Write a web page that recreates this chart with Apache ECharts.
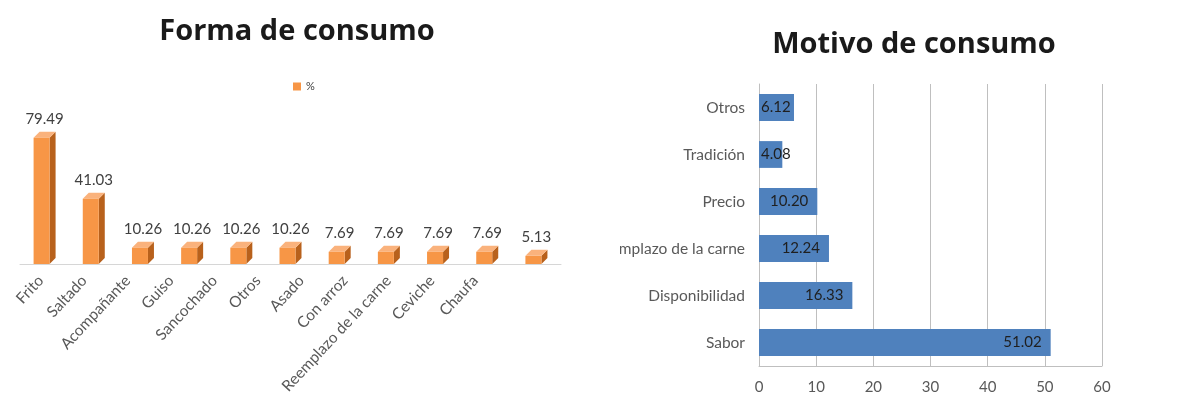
<!DOCTYPE html>
<html>
<head>
<meta charset="utf-8">
<script src="https://cdn.jsdelivr.net/npm/echarts@6/dist/echarts.min.js"></script>
<style>
html,body{margin:0;padding:0;background:#fff;}
#wrap{position:relative;width:1177px;height:414px;overflow:hidden;}
#left{position:absolute;left:0;top:0;width:600px;height:414px;}
#right{position:absolute;left:620px;top:0;width:557px;height:414px;}
</style>
</head>
<body>
<div id="wrap"><div id="left"></div><div id="right"></div></div>
<script>
// Left chart data
const formaCategories = ['Frito','Saltado','Acompañante','Guiso','Sancochado','Otros','Asado','Con arroz','Reemplazo de la carne','Ceviche','Chaufa'];
const formaValues = [79.49, 41.03, 10.26, 10.26, 10.26, 10.26, 7.69, 7.69, 7.69, 7.69, 5.13];
const formaSeriesName = '%';

// Right chart data (bottom to top)
const motivoCategories = ['Sabor','Disponibilidad','Reemplazo de la carne','Precio','Tradición','Otros'];
const motivoValues = [51.02, 16.33, 12.24, 10.20, 4.08, 6.12];
const motivoTicks = [0,10,20,30,40,50,60];

const FONT = 'Lato, "Open Sans", sans-serif';
const TFONT = '"Open Sans", Lato, sans-serif';

const left = echarts.init(document.getElementById('left'));
left.setOption({
  animation:false,
  title:{text:'Forma de consumo', left:292, top:12, textAlign:'center',
    textStyle:{fontFamily:TFONT, fontSize:29, fontWeight:'bold', color:'#1a1a1a'}},
  legend:{data:[formaSeriesName], left:288, top:76, icon:'rect', itemWidth:8, itemHeight:8, itemGap:4,
    textStyle:{fontFamily:FONT, fontSize:11, color:'#404040'}},
  grid:[
    {left:20, right:39, top:137, bottom:150, outerBoundsMode:'none', containLabel:false},
    {left:19, right:103, top:200, bottom:144, outerBoundsMode:'none', containLabel:false}
  ],
  xAxis:[
    {type:'category', data:formaCategories, gridIndex:0,
      axisLine:{show:true, lineStyle:{color:'#d6d6d6'}}, axisTick:{show:false}, axisLabel:{show:false}},
    {type:'category', data:formaCategories, gridIndex:1,
      axisLine:{show:false}, axisTick:{show:false},
      axisLabel:{rotate:47, margin:8, interval:0, fontFamily:FONT, fontSize:15.5, color:'#595959'}}
  ],
  yAxis:[
    {type:'value', min:0, max:80, show:false, gridIndex:0},
    {type:'value', min:0, max:1, show:false, gridIndex:1}
  ],
  series:[{
    type:'custom', name:formaSeriesName,
    itemStyle:{color:'#f79646'},
    data: formaValues.map((v,i)=>[i,v]),
    encode:{x:0,y:1},
    renderItem:function(params, api){
      const i = api.value(0), v = api.value(1);
      const b = api.coord([i,0]), t = api.coord([i,v]);
      const w = 16, d = 6;
      const x0 = b[0]-w/2-d/2, x1 = x0+w;
      const yb = b[1], yt = t[1];
      return {type:'group', children:[
        {type:'polygon', shape:{points:[[x1,yt],[x1+d,yt-d],[x1+d,yb-d],[x1,yb]]}, style:{fill:'#b8611c'}},
        {type:'polygon', shape:{points:[[x0,yt],[x0+d,yt-d],[x1+d,yt-d],[x1,yt]]}, style:{fill:'#fab27c'}},
        {type:'rect', shape:{x:x0,y:yt,width:w,height:yb-yt}, style:{fill:'#f79646'}},
        {type:'text', style:{text:v.toFixed(2), x:(x0+x1+d)/2, y:yt-d-5, align:'center', verticalAlign:'bottom',
          fill:'#404040', font:'15px '+FONT}}
      ]};
    }
  }]
});

const smallLabel = {position:'insideLeft', distance:2};
const right = echarts.init(document.getElementById('right'));
right.setOption({
  animation:false,
  title:{text:'Motivo de consumo', left:289, top:25, textAlign:'center',
    textStyle:{fontFamily:TFONT, fontSize:29, fontWeight:'bold', color:'#1a1a1a'}},
  grid:{left:139, right:75, top:84, bottom:48, outerBoundsMode:'none', containLabel:false},
  xAxis:{type:'value', min:0, max:60, interval:10,
    axisLine:{show:true, lineStyle:{color:'#bfbfbf'}}, axisTick:{show:false},
    splitLine:{show:true, lineStyle:{color:'#bfbfbf'}},
    axisLabel:{margin:14, fontFamily:FONT, fontSize:15, color:'#595959',
      formatter:function(v){return motivoTicks.indexOf(v)>=0 ? String(v) : '';}}},
  yAxis:{type:'category', data:motivoCategories,
    axisLine:{show:true, lineStyle:{color:'#bfbfbf'}}, axisTick:{show:false},
    axisLabel:{margin:14, fontFamily:FONT, fontSize:15.5, color:'#595959'}},
  series:[{
    type:'bar', barCategoryGap:'43%',
    itemStyle:{color:'#4f81bd'},
    data: motivoValues.map(v=> v<8 ? {value:v, label:smallLabel} : v),
    label:{show:true, position:'insideRight', distance:9, fontFamily:FONT, fontSize:15, color:'#1f1f1f',
      formatter:function(p){return p.value.toFixed(2);}}
  }]
});
</script>
</body>
</html>
